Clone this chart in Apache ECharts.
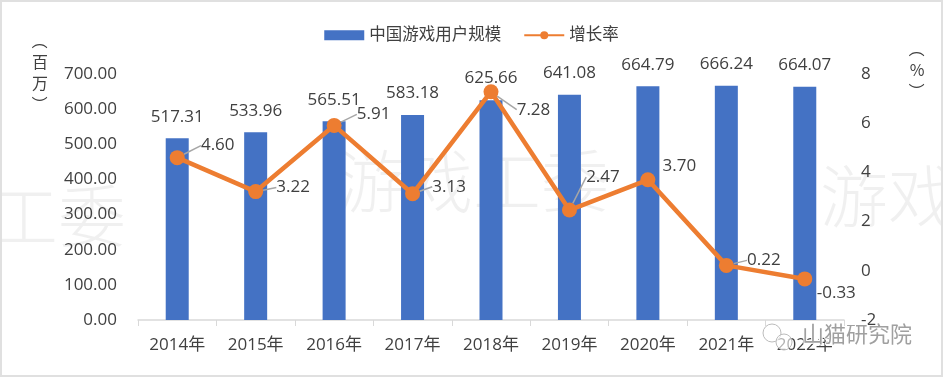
<!DOCTYPE html>
<html>
<head>
<meta charset="utf-8">
<script src="https://cdn.jsdelivr.net/npm/echarts@6/dist/echarts.min.js"></script>
<style>
  html, body { margin: 0; padding: 0; background: #fff; }
  #chart { width: 943px; height: 377px; box-sizing: border-box; border: 2px solid #e0e0e0; }
</style>
</head>
<body>
<div id="chart"></div>
<script>
// data
const years = ['2014年', '2015年', '2016年', '2017年', '2018年', '2019年', '2020年', '2021年', '2022年']
const users = [517.31, 533.96, 565.51, 583.18, 625.66, 641.08, 664.79, 666.24, 664.07]
const growth = [4.60, 3.22, 5.91, 3.13, 7.28, 2.47, 3.70, 0.22, -0.33]
const seriesNames = ['中国游戏用户规模', '增长率']

// where each growth label sits relative to its point, and whether it gets a leader line
const labelOffsets = [[41, -12], [38, -4], [40, -11], [37, -7], [43, 18], [34, -33], [32, -14], [38, -5], [32, 14]]
const leaders = [true, true, true, true, true, true, false, true, false]

const font = '"Open Sans", "Noto Sans CJK SC", sans-serif'
const textColor = '#404040'

// vertical axis title: upright characters, parentheses turned sideways
function verticalTitle(x, y, chars, step) {
  const items = []
  const n = chars.length + 2
  for (let i = 0; i < n; i++) {
    const isParen = i === 0 || i === n - 1
    items.push({
      type: 'text',
      x: x,
      y: y + i * step,
      rotation: isParen ? -Math.PI / 2 : 0,
      style: {
        text: i === 0 ? '（' : (i === n - 1 ? '）' : chars[i - 1]),
        fill: textColor,
        font: '16px "Noto Sans CJK SC"',
        align: 'center',
        verticalAlign: 'middle'
      }
    })
  }
  return items
}

const chart = echarts.init(document.getElementById('chart'))
chart.setOption({
  animation: false,
  textStyle: { fontFamily: font },
  legend: {
    top: 20,
    left: 'center',
    itemGap: 22,
    itemWidth: 40,
    itemHeight: 10,
    textStyle: { fontSize: 16.5, color: textColor, fontFamily: font },
    data: [
      { name: seriesNames[0], icon: 'rect' },
      { name: seriesNames[1] }
    ]
  },
  grid: { left: 136, right: 97, top: 72, bottom: 55 },
  xAxis: {
    type: 'category',
    data: years,
    axisLine: { lineStyle: { color: '#d9d9d9', width: 1.5 } },
    axisTick: { show: true, length: 6, lineStyle: { color: '#d9d9d9' } },
    axisLabel: { fontSize: 17, color: textColor, margin: 17 }
  },
  yAxis: [
    {
      type: 'value',
      min: 0,
      max: 700,
      interval: 100,
      splitLine: { show: false },
      axisLine: { show: false },
      axisLabel: {
        fontSize: 17,
        color: textColor,
        margin: 21,
        formatter: v => v.toFixed(2)
      }
    },
    {
      type: 'value',
      min: -2,
      max: 8,
      interval: 2,
      splitLine: { show: false },
      axisLine: { show: false },
      axisLabel: { fontSize: 17, color: textColor, margin: 17 }
    }
  ],
  graphic: [
    ...verticalTitle(38, 39, ['百', '万'], 21),
    ...verticalTitle(915, 47, ['%'], 21),
    // watermark
    { type: 'text', left: 335, top: 145, z: -10, silent: true, style: { text: '游戏工委', fill: 'rgba(0,0,0,0.06)', font: '300 68px "Noto Sans CJK SC"' } },
    { type: 'text', left: -12, top: 180, z: -10, silent: true, style: { text: '工委', fill: 'rgba(0,0,0,0.06)', font: '300 68px "Noto Sans CJK SC"' } },
    { type: 'text', left: 818, top: 160, z: -10, silent: true, style: { text: '游戏', fill: 'rgba(0,0,0,0.06)', font: '300 68px "Noto Sans CJK SC"' } },
    // source mark
    { type: 'circle', shape: { cx: 770, cy: 331, r: 9 }, z: 20, style: { fill: 'rgba(255,255,255,0.6)', stroke: '#bbb', lineWidth: 1 } },
    { type: 'circle', shape: { cx: 782, cy: 340, r: 8 }, z: 20, style: { fill: 'rgba(255,255,255,0.6)', stroke: '#bbb', lineWidth: 1 } },
    { type: 'text', left: 799, top: 320, z: 20, style: { text: '山猫研究院', fill: '#a0a0a0', stroke: '#fff', lineWidth: 2, font: '22px "Noto Sans CJK SC"' } }
  ],
  series: [
    {
      name: seriesNames[0],
      type: 'bar',
      data: users,
      barWidth: 23,
      itemStyle: { color: '#4472C4' },
      label: {
        show: true,
        position: 'top',
        distance: 13,
        fontSize: 17,
        color: textColor,
        formatter: p => p.value.toFixed(2)
      }
    },
    {
      name: seriesNames[1],
      type: 'line',
      yAxisIndex: 1,
      data: growth.map((v, i) => ({ value: v, labelLine: { show: leaders[i] } })),
      symbol: 'circle',
      symbolSize: 15,
      lineStyle: { color: '#ED7D31', width: 4.5 },
      itemStyle: { color: '#ED7D31' },
      z: 5,
      label: {
        show: true,
        position: 'inside',
        fontSize: 17,
        color: textColor,
        padding: [2, 2, 2, 7],
        formatter: p => p.value.toFixed(2)
      },
      labelLine: { show: true, lineStyle: { color: '#a6a6a6', width: 1.5 } },
      labelLayout: p => ({ dx: labelOffsets[p.dataIndex][0] - 3, dy: labelOffsets[p.dataIndex][1] })
    }
  ]
})
</script>
</body>
</html>
